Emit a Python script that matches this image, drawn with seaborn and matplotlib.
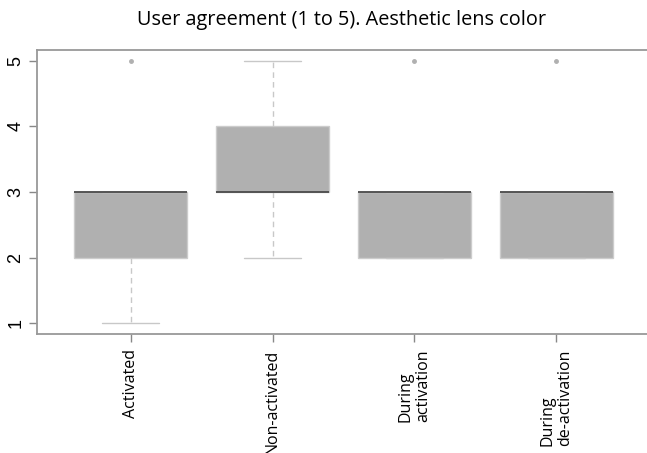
import numpy as np
import pandas as pd
import matplotlib
matplotlib.use("Agg")
import matplotlib.pyplot as plt
import seaborn as sns

# Agreement scores (1 to 5) for each condition
groups = ["Activated", "Non-activated", "During activation", "During de-activation"]
tick_labels = ["Activated", "Non-activated", "During\nactivation", "During\nde-activation"]
activated = [1, 2, 2, 2, 3, 3, 3, 3, 3, 5]
non_activated = [2, 3, 3, 3, 3, 3, 4, 4, 4, 5]
during_activation = [2, 2, 2, 2, 3, 3, 3, 3, 3, 5]
during_deactivation = [2, 2, 2, 2, 3, 3, 3, 3, 3, 5]
y_ticks = [1, 2, 3, 4, 5]

df = pd.DataFrame({
    "group": np.repeat(groups, [len(activated), len(non_activated),
                                len(during_activation), len(during_deactivation)]),
    "score": activated + non_activated + during_activation + during_deactivation,
})

sns.set_style("white")
fig = plt.figure(figsize=(6.47, 4.53), dpi=100)
ax = fig.add_axes([37 / 647, 1 - 334 / 453, 613 / 647, (334 - 50) / 453])

sns.boxplot(
    data=df, x="group", y="score", order=groups, ax=ax,
    color="#b0b0b0", saturation=1, width=0.8, linewidth=1.0,
    boxprops=dict(facecolor="#b0b0b0", edgecolor="#cccccc", linewidth=1.0),
    whiskerprops=dict(color="#c8c8c8", linestyle=(0, (4, 3)), linewidth=1.0),
    capprops=dict(color="#c8c8c8", linewidth=1.0),
    medianprops=dict(color="#4a4a4a", linewidth=1.3),
    flierprops=dict(marker="o", markerfacecolor="#b0b0b0",
                    markeredgecolor="#b0b0b0", markersize=2.5),
)

ax.set_xlim(-0.66, 3.66)
ax.set_ylim(0.84, 5.16)
ax.set_yticks(y_ticks)
ax.set_yticklabels([str(v) for v in y_ticks], rotation=90, va="center",
                   family="Liberation Sans", fontsize=13, color="black")
ax.set_xticks(range(len(groups)))
ax.set_xticklabels(tick_labels, rotation=90, va="top", ha="center",
                   multialignment="left", family="Open Sans", fontsize=11.5,
                   color="black")
ax.set_xlabel("")
ax.set_ylabel("")
ax.tick_params(axis="both", direction="out", length=6, width=1.0,
               color="#888888", left=True, bottom=True)
ax.tick_params(axis="y", pad=3)
ax.tick_params(axis="x", pad=5)
for side in ["left", "right", "top", "bottom"]:
    ax.spines[side].set_visible(True)
    ax.spines[side].set_color("#999999")
    ax.spines[side].set_linewidth(1.3)

fig.text(0.528, 1 - 20 / 453, "User agreement (1 to 5). Aesthetic lens color",
         ha="center", va="center", family="Open Sans", fontsize=14.3,
         fontweight="medium", color="black")

fig.savefig("out.png", dpi=100)
